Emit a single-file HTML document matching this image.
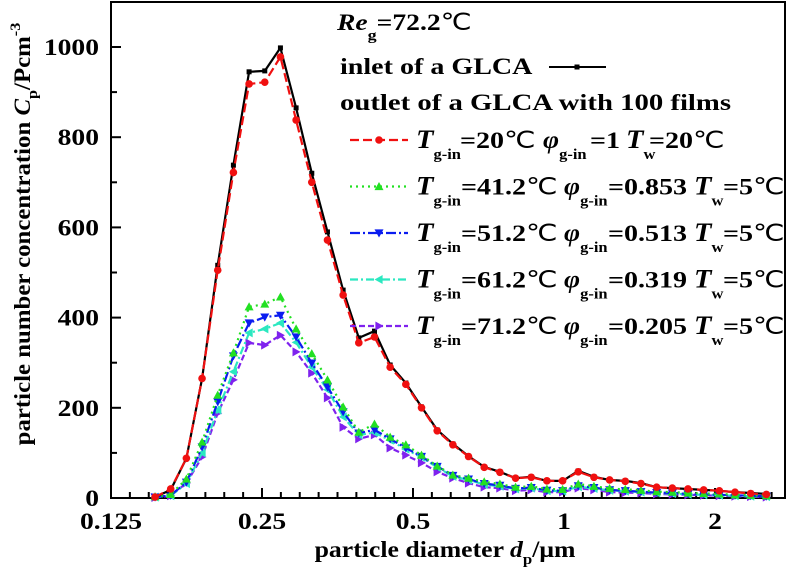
<!DOCTYPE html>
<html><head><meta charset="utf-8"><style>
body{margin:0;background:#fff}
svg text{font-family:"Liberation Serif",serif;font-weight:bold;fill:#000}
.dc{font-weight:normal}
</style></head><body>
<svg id="chart" width="788" height="578" viewBox="0 0 788 578" xmlns="http://www.w3.org/2000/svg">
<rect x="111" y="2" width="674" height="496" fill="none" stroke="#000" stroke-width="2"/>
<g id="ticks"></g>
<g id="series"></g>
<text transform="translate(30,234) rotate(-90) scale(1.08,1)" text-anchor="middle" font-size="23">particle number concentration <tspan font-style="italic">C</tspan><tspan font-size="15" dy="7">p</tspan><tspan dy="-7">/Pcm</tspan><tspan font-size="15" dy="-10">-3</tspan></text>
<text transform="translate(445,557) scale(1.12,1)" text-anchor="middle" font-size="23">particle diameter <tspan font-style="italic">d</tspan><tspan font-size="15" dy="7">p</tspan><tspan dy="-7">/μm</tspan></text>
<g id="legend">
<text transform="translate(337,30) scale(1.2,1)" font-size="23"><tspan font-style="italic">Re</tspan><tspan font-size="15" dy="10">g</tspan><tspan dy="-10">=72.2</tspan><tspan class="dc">℃</tspan></text>
<text transform="translate(340,74) scale(1.22,1)" font-size="23">inlet of a GLCA</text>
<text transform="translate(340,110) scale(1.25,1)" font-size="23">outlet of a GLCA with 100  films</text>
</g>
</svg>
<script>
const categories=[];for(let i=0;i<40;i++)categories.push(0.153*Math.pow(10,i/32));
const inletValues=[2,18,88,265,516,738,945,947,998,865,720,590,461,355,370,295,255,202,151,120,93,69,58,44,47,38,38,60,47,40,38,33,24,22,20,18,16,13,11,9];
const outlet20Values=[2,20,88,265,505,722,918,922,978,838,700,572,450,344,357,290,252,200,149,118,92,68,57,44,46,38,38,58,46,40,37,32,24,22,20,18,16,13,10,8];
const outlet41Values=[3,8,42,124,228,322,424,430,446,375,320,262,202,146,164,135,118,95,71,51,44,36,31,24,26,20,19,31,26,21,19,17,14,13,11,10,9,7,6,5];
const outlet51Values=[2,6,35,113,213,315,388,401,405,357,299,246,191,144,151,131,111,92,70,50,42,32,28,21,23,17,16,27,23,18,16,14,12,11,9,8,7,6,5,4];
const outlet61Values=[2,5,32,100,195,280,366,375,388,345,290,240,180,140,145,128,108,90,68,48,40,30,26,20,22,16,15,25,21,17,15,13,11,10,8,7,6,5,4,3];
const outlet71Values=[1,5,33,91,188,262,344,339,361,324,277,222,157,131,140,111,95,78,58,44,33,24,22,16,18,13,13,22,18,13,12,11,9,8,7,6,5,4,3,2];
const yTicks=[0,200,400,600,800,1000];
const yTickLabels=["0","200","400","600","800","1000"];
const xTicks=[0.125,0.25,0.5,1,2];
const xTickLabels=["0.125","0.25","0.5","1","2"];
const legendLabels=[["20","1","20"],["41.2","0.853","5"],["51.2","0.513","5"],["61.2","0.319","5"],["71.2","0.205","5"]];

const NS="http://www.w3.org/2000/svg";
const xs=d=>111+151*Math.log2(d/0.125);
const ys=v=>498-0.451*v;
function mk(tag,attrs,parent){const e=document.createElementNS(NS,tag);for(const k in attrs)e.setAttribute(k,attrs[k]);parent.appendChild(e);return e;}
function txt(parent,x,y,html,sx,anchor){const t=mk('text',{transform:'translate('+x+','+y+') scale('+sx+',1)','font-size':23,'text-anchor':anchor||'start'},parent);t.innerHTML=html;return t;}
const tg=document.getElementById('ticks');
yTicks.forEach((v,i)=>{
  const t=mk('line',{x1:111,x2:121,y1:ys(v),y2:ys(v),stroke:'#000','stroke-width':2},tg);
  
  
  if(i<yTicks.length-1){const m=mk('line',{x1:111,x2:117,y1:ys(v+100),y2:ys(v+100),stroke:'#000','stroke-width':2},tg);
  
  }
  const l=txt(tg,99,ys(v)+8,yTickLabels[i],1.2,'end');
  
  
});
for(let k=1;k<36;k++){const x=111+151*k/8;if(x>783)break;const maj=k%8===0;
  const m=mk('line',{x1:x,x2:x,y1:498,y2:maj?488:492,stroke:'#000','stroke-width':2},tg);
  
  }
xTicks.forEach((d,i)=>{const l=txt(tg,xs(d),529,xTickLabels[i],1.2,'middle');
  
  });

const sg=document.getElementById('series');
function marker(type,x,y,color,g){
  let e;const s=4.5;
  if(type==='sq')e=mk('rect',{x:x-2.5,y:y-2.5,width:5,height:5,fill:color},g);
  else if(type==='ci')e=mk('circle',{cx:x,cy:y,r:3.8,fill:color},g);
  else{let p;
    if(type==='up')p=[[x,y-s],[x-s,y+s*0.8],[x+s,y+s*0.8]];
    if(type==='dn')p=[[x,y+s],[x-s,y-s*0.8],[x+s,y-s*0.8]];
    if(type==='lf')p=[[x-s,y],[x+s*0.8,y-s],[x+s*0.8,y+s]];
    if(type==='rt')p=[[x+s,y],[x-s*0.8,y-s],[x-s*0.8,y+s]];
    e=mk('polygon',{points:p.map(q=>q.join(',')).join(' '),fill:color},g);}
  return e;
}
const specs=[
 {name:'outlet-71c',vals:outlet71Values,color:'#7f22ee',dash:'6,3',m:'rt'},
 {name:'outlet-61c',vals:outlet61Values,color:'#2be8c0',dash:'8,3,2,3',m:'lf'},
 {name:'outlet-51c',vals:outlet51Values,color:'#0a1cf0',dash:'10,3,2,3',m:'dn'},
 {name:'outlet-41c',vals:outlet41Values,color:'#22e022',dash:'2,4',m:'up'},
 {name:'inlet',vals:inletValues,color:'#000',dash:'',m:'sq'},
 {name:'outlet-20c',vals:outlet20Values,color:'#f01010',dash:'9,4',m:'ci'}
];
specs.forEach(sp=>{
  const g=mk('g',{},sg);
  
  
  const pts=sp.vals.map((v,i)=>xs(categories[i]).toFixed(1)+','+ys(v).toFixed(1)).join(' ');
  const pl=mk('polyline',{points:pts,fill:'none',stroke:sp.color,'stroke-width':2.2,'stroke-dasharray':sp.dash},g);
  
  
  sp.vals.forEach((v,i)=>{const e=marker(sp.m,xs(categories[i]),ys(v),sp.color,g);
    
    });
});

// legend
const lg=document.getElementById('legend');
const il=mk('line',{x1:549,x2:606,y1:67,y2:67,stroke:'#000','stroke-width':2},lg);


const im=marker('sq',577,67,'#000',lg);


const lspecs=[specs[5],specs[3],specs[2],specs[1],specs[0]];
const sub=s=>'<tspan font-size="15" dy="11">'+s+'</tspan>';
const deg='<tspan class="dc">℃</tspan>';
lspecs.forEach((sp,r)=>{
  const y=148+r*46.5, my=y-8;
  const ln=mk('line',{x1:350,x2:408,y1:my,y2:my,stroke:sp.color,'stroke-width':2.2,'stroke-dasharray':sp.dash},lg);
  
  
  const mm=marker(sp.m,379,my,sp.color,lg);
  
  
  const L=legendLabels[r];
  const p=r===0?{t:416,e1:460,phi:543,e2:590,tw:626,e3:649}:{t:416,e1:461,phi:564,e2:608,tw:694,e3:723};
  const parts=[
    txt(lg,p.t,y,'<tspan font-style="italic" font-size="26">T</tspan>'+sub('g-in'),1.1),
    txt(lg,p.e1,y,'='+L[0]+deg,1.22),
    txt(lg,p.phi,y,'<tspan font-style="italic" font-size="25">φ</tspan>'+sub('g-in'),1.1),
    txt(lg,p.e2,y,'='+L[1],1.22),
    txt(lg,p.tw,y,'<tspan font-style="italic" font-size="26">T</tspan>'+sub('w'),1.1),
    txt(lg,p.e3,y,'='+L[2]+deg,1.22)];
  parts.forEach(t=>{
    
    
  });
});
</script>
</body></html>
